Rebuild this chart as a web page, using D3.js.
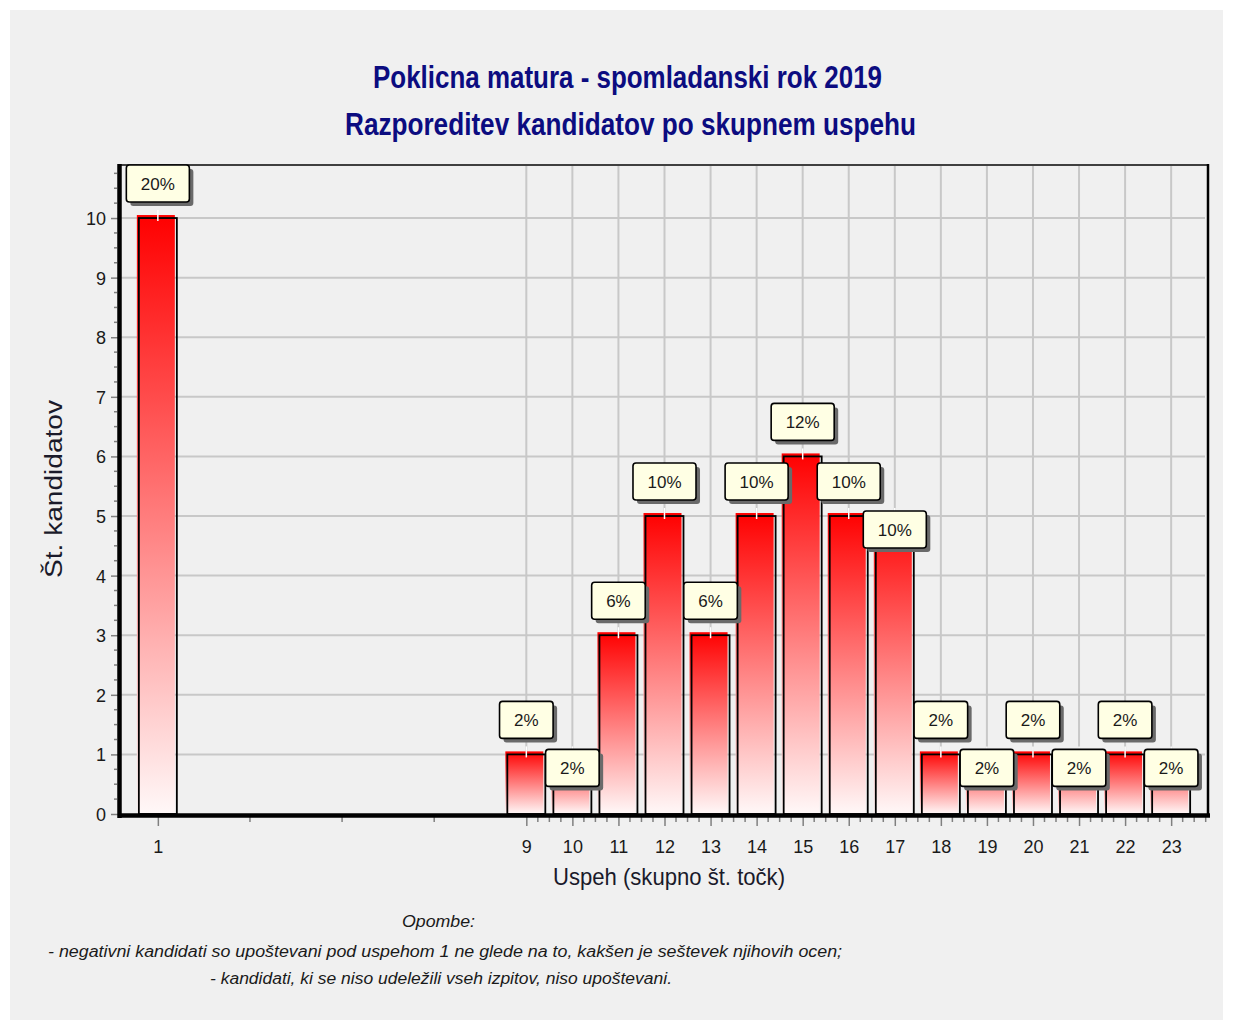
<!DOCTYPE html>
<html><head><meta charset="utf-8">
<script src="https://cdn.jsdelivr.net/npm/d3@7"></script>
<style>body{margin:0;background:#fff;} svg{display:block}</style>
</head><body>
<svg id="c" width="1233" height="1030"></svg>
<script>
const categories = [1, 9, 10, 11, 12, 13, 14, 15, 16, 17, 18, 19, 20, 21, 22, 23];
const counts = [10, 1, 1, 3, 5, 3, 5, 6, 5, 5, 1, 1, 1, 1, 1, 1];
const percentLabels = ["20%", "2%", "2%", "6%", "10%", "6%", "10%", "12%", "10%", "10%", "2%", "2%", "2%", "2%", "2%", "2%"];
const yTicks = [0, 1, 2, 3, 4, 5, 6, 7, 8, 9, 10];
const titleLines = ["Poklicna matura - spomladanski rok 2019", "Razporeditev kandidatov po skupnem uspehu"];
const xTitle = "Uspeh (skupno št. točk)";
const yTitle = "Št. kandidatov";
const notes = ["Opombe:",
  "- negativni kandidati so upoštevani pod uspehom 1 ne glede na to, kakšen je seštevek njihovih ocen;",
  "- kandidati, ki se niso udeležili vseh izpitov, niso upoštevani."];

const FONT = "'Liberation Sans', Arial, sans-serif";
const svg = d3.select("#c");
svg.append("rect").attr("x", 10).attr("y", 10).attr("width", 1213).attr("height", 1010).attr("fill", "#f0f0f0");

const L = 121, R = 1208, T = 165, B = 814;
const x = d3.scaleLinear().domain([0.2, 23.8]).range([L, R]);
const y = d3.scaleLinear().domain([0, 10.89]).range([B, T]);

// gradient
const defs = svg.append("defs");
const g = defs.append("linearGradient").attr("id", "barg").attr("x1", 0).attr("y1", 0).attr("x2", 0).attr("y2", 1);
g.append("stop").attr("offset", "0%").attr("stop-color", "#ff0000");
g.append("stop").attr("offset", "100%").attr("stop-color", "#fff8f8");

// gridlines
const grid = svg.append("g");
grid.selectAll("line.h").data(yTicks.filter(d => d > 0)).join("line")
  .attr("x1", L).attr("x2", R - 3).attr("y1", d => y(d)).attr("y2", d => y(d))
  .attr("stroke", "#c8c8c8").attr("stroke-width", 2);
grid.selectAll("line.v").data(categories.filter(d => d >= 9)).join("line")
  .attr("x1", d => x(d)).attr("x2", d => x(d)).attr("y1", T).attr("y2", B)
  .attr("stroke", "#c8c8c8").attr("stroke-width", 2);

// minor ticks
const xMinor = [3, 5, 7].concat(d3.range(9, 23.8, 0.25).filter(v => v % 1 !== 0));
svg.append("g").selectAll("line").data(xMinor).join("line")
  .attr("x1", d => x(d)).attr("x2", d => x(d)).attr("y1", B + 3).attr("y2", B + 8)
  .attr("stroke", "#808080").attr("stroke-width", 1.5);
const yMinor = d3.range(0, 10.89, 0.25).filter(v => v % 1 !== 0);
svg.append("g").selectAll("line").data(yMinor).join("line")
  .attr("x1", L - 7).attr("x2", L - 4).attr("y1", d => y(d)).attr("y2", d => y(d))
  .attr("stroke", "#808080").attr("stroke-width", 1.5);

// axes (labels + major ticks)
const xAxis = svg.append("g").attr("transform", `translate(0,${B + 2})`)
  .call(d3.axisBottom(x).tickValues(categories).tickSize(10).tickFormat(d3.format("d")));
xAxis.select(".domain").remove();
xAxis.selectAll("line").attr("stroke", "#808080").attr("stroke-width", 1.5);
xAxis.selectAll("text").attr("y", 37).attr("dy", 0).attr("font-size", 18).attr("font-family", FONT).attr("fill", "#1a1a1a");

const yAxis = svg.append("g").attr("transform", `translate(${L - 2},0)`)
  .call(d3.axisLeft(y).tickValues(yTicks).tickSize(8).tickFormat(d3.format("d")));
yAxis.select(".domain").remove();
yAxis.selectAll("line").attr("stroke", "#808080").attr("stroke-width", 1.5);
yAxis.selectAll("text").attr("x", -13).attr("dy", "0.36em").attr("font-size", 18).attr("font-family", FONT).attr("fill", "#1a1a1a");

// frame
svg.append("line").attr("x1", L).attr("x2", R).attr("y1", T).attr("y2", T).attr("stroke", "#404040").attr("stroke-width", 2);
svg.append("line").attr("x1", R).attr("x2", R).attr("y1", T - 1).attr("y2", B + 2).attr("stroke", "#000").attr("stroke-width", 2.5);

// bars
const bw = 38;
const bars = svg.append("g");
categories.forEach((c, i) => {
  const cx = x(c), top = y(counts[i]), x0 = cx - bw / 2;
  bars.append("rect").attr("x", x0 - 2).attr("y", top - 3).attr("width", bw).attr("height", B - top + 3)
    .attr("fill", "url(#barg)");
  bars.append("rect").attr("x", x0).attr("y", top).attr("width", bw).attr("height", B - top)
    .attr("fill", "none").attr("stroke", "#000").attr("stroke-width", 1.8);
  bars.append("line").attr("x1", cx).attr("x2", cx).attr("y1", top - 8).attr("y2", top + 3)
    .attr("stroke", "#fff").attr("stroke-width", 1.5);
});

// axis lines (thick)
svg.append("line").attr("x1", L - 1.5).attr("x2", L - 1.5).attr("y1", T - 1).attr("y2", B + 4).attr("stroke", "#000").attr("stroke-width", 4.5);
svg.append("line").attr("x1", L - 3).attr("x2", R + 2).attr("y1", B + 1.5).attr("y2", B + 1.5).attr("stroke", "#000").attr("stroke-width", 4.5);

// data labels with staggering
const lab = svg.append("g");
const BH = 37;
let prev = null;
categories.forEach((c, i) => {
  const cx = x(c), top = y(counts[i]);
  const grp = lab.append("g");
  const shadow = grp.append("rect");
  const box = grp.append("rect");
  const t = grp.append("text").text(percentLabels[i]).attr("font-family", FONT).attr("font-size", 17)
    .attr("fill", "#1a1a1a").attr("text-anchor", "middle").attr("x", cx);
  const tw = t.node().getComputedTextLength();
  const w = tw + 29;
  let by = top - 53;
  const rect = {x0: cx - w / 2, x1: cx + w / 2, y0: by, y1: by + BH};
  if (prev && rect.x0 < prev.x1 && rect.y0 < prev.y1 && rect.y1 > prev.y0) {
    by = top - 5;
    rect.y0 = by; rect.y1 = by + BH;
  }
  prev = rect;
  shadow.attr("x", cx - w / 2 + 4).attr("y", by + 4).attr("width", w).attr("height", BH).attr("rx", 3).attr("fill", "#6a6a6a");
  box.attr("x", cx - w / 2).attr("y", by).attr("width", w).attr("height", BH).attr("rx", 3)
    .attr("fill", "#ffffe4").attr("stroke", "#000").attr("stroke-width", 1.6);
  t.attr("y", by + BH / 2 + 6);
});

// titles
const tl = [{t: titleLines[0], cx: 627.5, y: 88, len: 509}, {t: titleLines[1], cx: 630.5, y: 135, len: 571}];
svg.append("g").selectAll("text").data(tl).join("text")
  .attr("x", d => d.cx).attr("y", d => d.y).attr("text-anchor", "middle")
  .attr("textLength", d => d.len).attr("lengthAdjust", "spacingAndGlyphs")
  .attr("font-family", FONT).attr("font-weight", "bold").attr("font-size", 31).attr("fill", "#0c0c80")
  .text(d => d.t);

svg.append("text").attr("x", 669).attr("y", 885).attr("text-anchor", "middle")
  .attr("textLength", 232).attr("lengthAdjust", "spacingAndGlyphs")
  .attr("font-family", FONT).attr("font-size", 24).attr("fill", "#1a1a2a").text(xTitle);

svg.append("text").attr("transform", "translate(62,489) rotate(-90)").attr("text-anchor", "middle")
  .attr("textLength", 178).attr("lengthAdjust", "spacingAndGlyphs")
  .attr("font-family", FONT).attr("font-size", 23).attr("fill", "#1a1a2a").text(yTitle);

const nl = [{t: notes[0], x: 402, y: 927, len: 73}, {t: notes[1], x: 48, y: 957, len: 794}, {t: notes[2], x: 210, y: 984, len: 462}];
svg.append("g").selectAll("text").data(nl).join("text")
  .attr("x", d => d.x).attr("y", d => d.y)
  .attr("textLength", d => d.len).attr("lengthAdjust", "spacingAndGlyphs")
  .attr("font-family", FONT).attr("font-style", "italic").attr("font-size", 16).attr("fill", "#1a1a1a")
  .text(d => d.t);
</script>
</body></html>
